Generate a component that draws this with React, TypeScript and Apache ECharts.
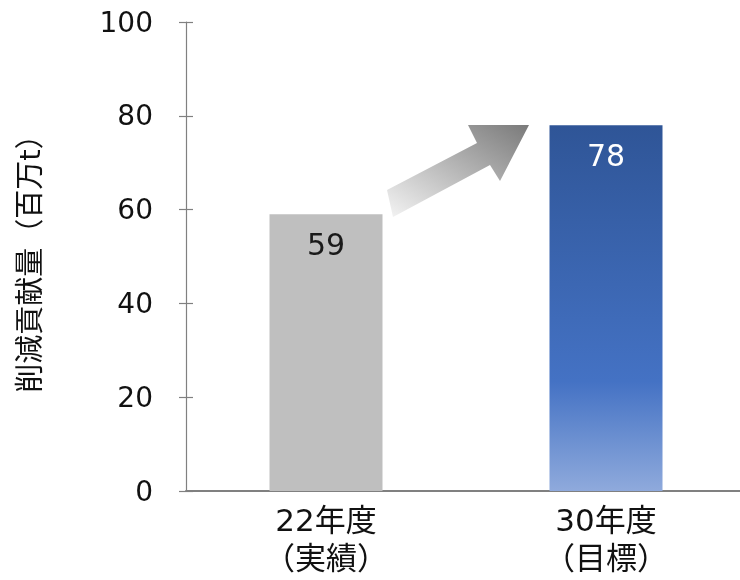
import React, { useEffect, useRef } from "react";
import * as echarts from "echarts";

const categories = ["22年度\n（実績）", "30年度\n（目標）"];
const values = [59, 78];
const yTicks = { min: 0, max: 100, interval: 20 };
const yName = "削減貢献量（百万t）";

export default function App() {
  const ref = useRef<HTMLDivElement>(null);
  useEffect(() => {
    if (!ref.current) return;
    const chart = echarts.init(ref.current, null, { renderer: "svg" });
    const mixed = "'DejaVu Sans', 'Noto Sans CJK JP', sans-serif";
    chart.setOption({
      animation: false,
      grid: {
        left: 186,
        right: -6,
        top: 22,
        bottom: 89,
        containLabel: false,
        outerBoundsMode: "none",
      },
      xAxis: {
        type: "category",
        data: categories,
        axisLine: { lineStyle: { color: "#808080", width: 2 } },
        axisTick: { show: false },
        axisLabel: {
          color: "#111",
          fontSize: 31,
          fontFamily: mixed,
          lineHeight: 38,
          margin: 10,
        },
      },
      yAxis: [
        {
          type: "value",
          min: yTicks.min,
          max: yTicks.max,
          interval: yTicks.interval,
          name: yName,
          nameLocation: "middle",
          nameGap: 142,
          nameRotate: 90,
          nameTextStyle: { color: "#111", fontSize: 29, fontFamily: mixed },
          axisLine: { show: true, lineStyle: { color: "#808080", width: 1.2 } },
          axisTick: { show: true, length: 7, lineStyle: { color: "#808080", width: 1.2 } },
          axisLabel: { color: "#111", fontSize: 28, fontFamily: mixed, margin: 33 },
          splitLine: { show: false },
        },
        {
          type: "value",
          min: yTicks.min,
          max: yTicks.max,
          interval: yTicks.interval,
          position: "left",
          axisLine: { show: false },
          axisTick: { show: true, inside: true, length: 7, lineStyle: { color: "#808080", width: 1.2 } },
          axisLabel: { show: false },
          splitLine: { show: false },
        },
      ],
      series: [
        {
          type: "bar",
          barWidth: 113,
          data: [
            {
              value: values[0],
              itemStyle: { color: "#bfbfbf" },
              label: { color: "#1a1a1a" },
            },
            {
              value: values[1],
              itemStyle: {
                color: new echarts.graphic.LinearGradient(0, 0, 0, 1, [
                  { offset: 0, color: "#2f5597" },
                  { offset: 0.7, color: "#4472c4" },
                  { offset: 1, color: "#8faadc" },
                ]),
              },
              label: { color: "#ffffff" },
            },
          ],
          label: {
            show: true,
            position: "insideTop",
            distance: 15,
            fontSize: 30,
            fontFamily: mixed,
          },
        },
      ],
      graphic: [
        {
          type: "polygon",
          shape: {
            points: [
              [387, 190],
              [477, 143],
              [468, 125],
              [529, 125],
              [500, 181],
              [490, 165],
              [393, 217],
            ],
          },
          style: {
            fill: new echarts.graphic.LinearGradient(0, 1, 1, 0, [
              { offset: 0, color: "#f4f4f4" },
              { offset: 1, color: "#7a7a7a" },
            ]),
          },
        },
      ],
    });
    return () => chart.dispose();
  }, []);
  return <div ref={ref} style={{ width: 740, height: 580, position: "fixed", left: 0, top: 0 }} />;
}
